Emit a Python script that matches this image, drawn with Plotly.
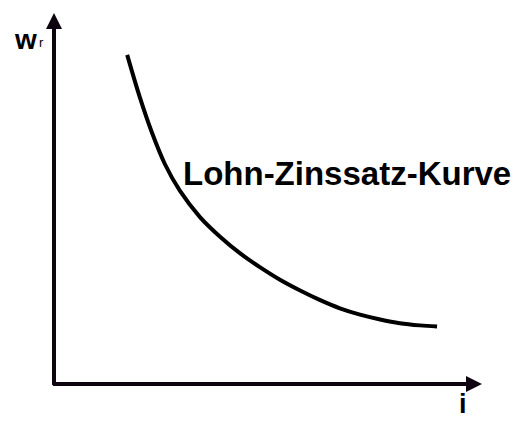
import plotly.graph_objects as go

# Curve values (i on x, w_r on y; axis spans 0..10)
i_vals = [1.71, 2.01, 2.29, 2.59, 2.94, 3.41, 3.88, 4.35, 4.81, 5.28, 5.75,
          6.22, 6.68, 7.15, 7.62, 8.08, 8.55, 8.95]
w_vals = [8.87, 7.71, 6.77, 5.93, 5.21, 4.50, 3.97, 3.52, 3.15, 2.81, 2.52,
          2.26, 2.04, 1.87, 1.74, 1.64, 1.58, 1.55]

curve_label = "Lohn-Zinssatz-Kurve"
x_label = "i"
y_label_main = "w"
y_label_sub = "r"

W, H = 516, 421
L, R, T, B = 54, 34, 13, 37
FONT = "Liberation Sans, Arial, sans-serif"
PW, PH = W - L - R, H - T - B


def px(x):
    return (x - L) / PW


def py(y):
    return (H - B - y) / PH


fig = go.Figure()
fig.add_trace(go.Scatter(
    x=i_vals, y=w_vals, mode="lines",
    line=dict(color="black", width=4, shape="spline", smoothing=1.0),
    hoverinfo="skip", showlegend=False,
))

ax_color = "#0d0410"
annotations = [
    # y axis arrow
    dict(x=0, y=10, ax=0, ay=-0.07, xref="x", yref="y", axref="x", ayref="y",
         showarrow=True, arrowhead=2, arrowsize=0.8, arrowwidth=4, arrowcolor=ax_color, text=""),
    # x axis arrow
    dict(x=10, y=0, ax=-0.06, ay=0, xref="x", yref="y", axref="x", ayref="y",
         showarrow=True, arrowhead=2, arrowsize=0.8, arrowwidth=4, arrowcolor=ax_color, text=""),
    dict(x=px(181), y=py(173), xref="paper", yref="paper",
         xanchor="left", yanchor="middle", showarrow=False, text="<b>" + curve_label + "</b>",
         font=dict(family=FONT, size=33, color="black")),
    dict(x=px(463), y=py(420), xref="paper", yref="paper",
         xanchor="center", yanchor="bottom", showarrow=False, text="<b>" + x_label + "</b>",
         font=dict(family=FONT, size=27, color="black"), borderpad=0),
    dict(x=px(25), y=py(39), xref="paper", yref="paper",
         xanchor="center", yanchor="middle", showarrow=False, text="<b>" + y_label_main + "</b>",
         font=dict(family=FONT, size=28, color="black")),
    dict(x=px(41), y=py(43), xref="paper", yref="paper",
         xanchor="center", yanchor="middle", showarrow=False, text=y_label_sub,
         font=dict(family=FONT, size=13, color="black")),
]

fig.update_layout(
    width=W, height=H,
    margin=dict(l=L, r=R, t=T, b=B, pad=0),
    paper_bgcolor="white", plot_bgcolor="white",
    xaxis=dict(range=[0, 10], visible=False, fixedrange=True),
    yaxis=dict(range=[0, 10], visible=False, fixedrange=True),
    annotations=annotations,
    showlegend=False,
)

fig.write_html("out.html", config={"displayModeBar": False},
               post_script="document.body.style.margin='0';document.body.style.overflow='hidden';")
